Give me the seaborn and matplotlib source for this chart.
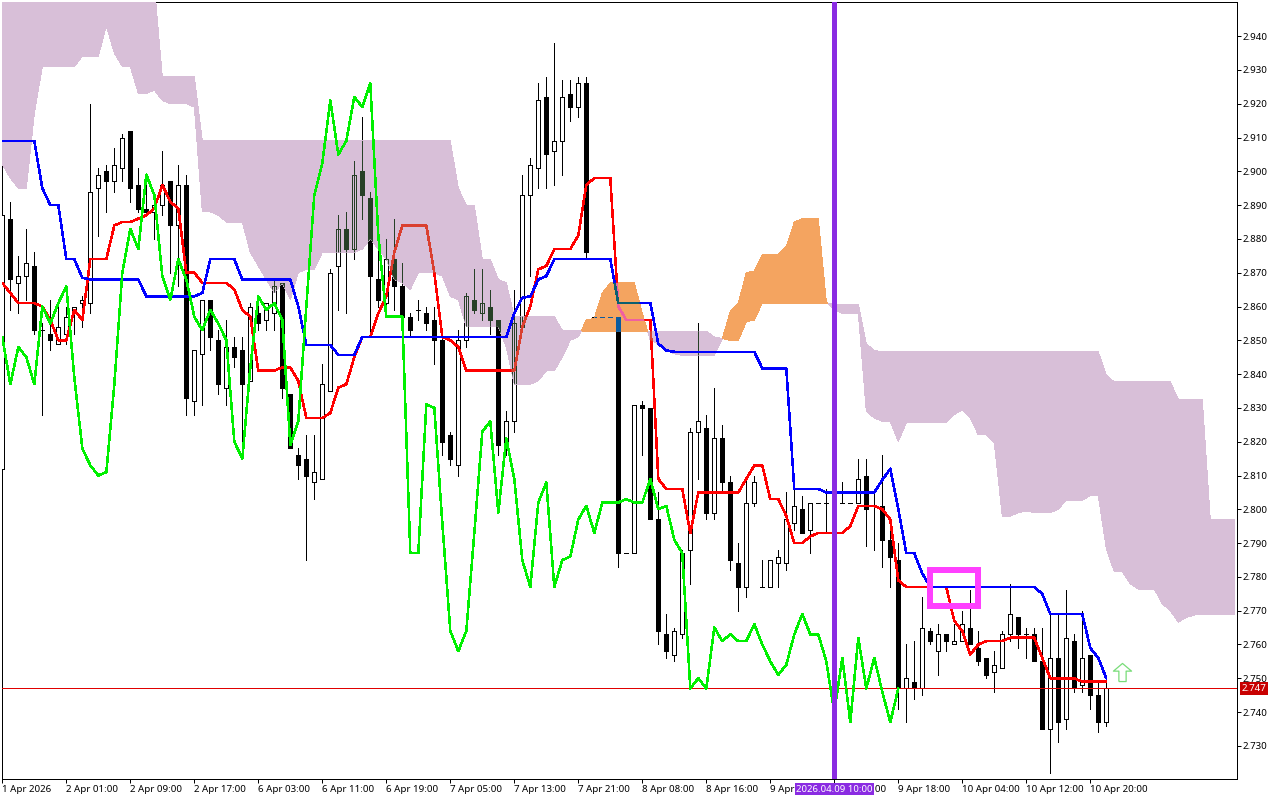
import numpy as np
import matplotlib
matplotlib.use("Agg")
import matplotlib.pyplot as plt
from matplotlib.path import Path
from matplotlib.patches import Rectangle
import seaborn as sns

# hourly candles
opens = [2.812,2.886,2.867,2.869,2.872,2.853,2.852,2.849,2.852,2.858,
         2.861,2.861,2.895,2.900,2.897,2.901,2.912,2.896,2.889,2.888,
         2.890,2.897,2.884,2.896,2.832,2.846,2.862,2.850,2.836,2.848,
         2.847,2.838,2.858,2.856,2.858,2.867,2.834,2.816,2.815,2.808,
         2.809,2.835,2.872,2.883,2.877,2.900,2.892,2.868,2.861,2.874,
         2.866,2.857,2.859,2.858,2.856,2.850,2.822,2.813,2.850,2.862,
         2.858,2.860,2.856,2.819,2.826,2.854,2.893,2.901,2.922,2.906,
         2.909,2.923,2.919,2.926,2.857,2.857,2.857,2.857,2.787,2.787,
         2.831,2.830,2.797,2.763,2.757,2.763,2.788,2.823,2.824,2.799,
         2.821,2.808,2.784,2.777,2.802,2.777,2.777,2.784,2.784,2.796,
         2.800,2.794,2.802,2.802,2.802,2.802,2.802,2.802,2.810,2.801,
         2.801,2.791,2.785,2.747,2.749,2.747,2.764,2.758,2.763,2.760,
         2.761,2.765,2.759,2.756,2.752,2.753,2.763,2.768,2.763,2.763,
         2.755,2.735,2.756,2.738,2.761,2.748,2.757,2.745,2.737]
highs = [2.888,2.891,2.875,2.883,2.876,2.855,2.862,2.860,2.860,2.860,
         2.863,2.920,2.901,2.902,2.907,2.911,2.912,2.901,2.896,2.890,
         2.906,2.897,2.902,2.899,2.847,2.862,2.862,2.853,2.856,2.851,
         2.851,2.861,2.861,2.861,2.868,2.867,2.834,2.818,2.822,2.822,
         2.843,2.871,2.887,2.888,2.903,2.916,2.894,2.884,2.880,2.886,
         2.873,2.858,2.862,2.860,2.860,2.852,2.823,2.853,2.864,2.871,
         2.871,2.865,2.856,2.829,2.865,2.899,2.904,2.926,2.928,2.938,
         2.927,2.927,2.928,2.928,2.857,2.857,2.857,2.857,2.787,2.831,
         2.832,2.830,2.805,2.769,2.765,2.788,2.824,2.855,2.828,2.836,
         2.825,2.810,2.790,2.809,2.810,2.785,2.785,2.788,2.805,2.806,
         2.804,2.802,2.802,2.806,2.802,2.808,2.802,2.815,2.815,2.806,
         2.816,2.797,2.790,2.760,2.761,2.774,2.765,2.766,2.763,2.766,
         2.770,2.776,2.764,2.756,2.758,2.764,2.778,2.768,2.765,2.765,
         2.765,2.769,2.769,2.776,2.763,2.770,2.757,2.749,2.749]
lows = [2.812,2.859,2.858,2.862,2.852,2.828,2.847,2.849,2.849,2.852,
        2.854,2.858,2.881,2.888,2.894,2.897,2.891,2.888,2.887,2.880,
        2.887,2.870,2.866,2.828,2.828,2.831,2.847,2.834,2.831,2.842,
        2.819,2.838,2.853,2.853,2.853,2.833,2.818,2.809,2.785,2.803,
        2.809,2.835,2.859,2.858,2.874,2.886,2.851,2.860,2.859,2.859,
        2.851,2.851,2.856,2.853,2.843,2.816,2.813,2.810,2.848,2.858,
        2.856,2.852,2.816,2.816,2.823,2.854,2.869,2.895,2.895,2.896,
        2.899,2.915,2.916,2.874,2.857,2.857,2.857,2.783,2.787,2.787,
        2.816,2.797,2.760,2.756,2.755,2.762,2.778,2.809,2.797,2.797,
        2.805,2.782,2.770,2.774,2.801,2.777,2.777,2.777,2.782,2.794,
        2.793,2.787,2.802,2.793,2.802,2.802,2.802,2.802,2.789,2.788,
        2.783,2.777,2.741,2.737,2.744,2.745,2.760,2.751,2.758,2.760,
        2.761,2.760,2.754,2.750,2.746,2.753,2.761,2.759,2.756,2.755,
        2.735,2.722,2.731,2.735,2.746,2.746,2.741,2.734,2.736]
closes = [2.887,2.868,2.869,2.873,2.853,2.853,2.850,2.854,2.857,2.860,
          2.862,2.894,2.899,2.897,2.902,2.910,2.895,2.889,2.888,2.890,
          2.896,2.884,2.896,2.833,2.847,2.862,2.851,2.837,2.848,2.845,
          2.837,2.860,2.855,2.861,2.866,2.836,2.818,2.813,2.810,2.811,
          2.837,2.870,2.883,2.877,2.899,2.893,2.869,2.862,2.874,2.866,
          2.857,2.853,2.859,2.855,2.850,2.820,2.815,2.850,2.863,2.859,
          2.861,2.856,2.819,2.826,2.855,2.893,2.902,2.921,2.905,2.909,
          2.922,2.919,2.926,2.876,2.857,2.857,2.857,2.787,2.787,2.831,
          2.830,2.797,2.764,2.758,2.764,2.787,2.823,2.826,2.799,2.821,
          2.808,2.785,2.777,2.802,2.808,2.777,2.785,2.786,2.797,2.801,
          2.793,2.802,2.802,2.802,2.802,2.802,2.802,2.809,2.800,2.801,
          2.791,2.786,2.747,2.750,2.747,2.765,2.761,2.763,2.761,2.761,
          2.766,2.760,2.755,2.751,2.754,2.763,2.769,2.763,2.763,2.755,
          2.735,2.756,2.737,2.762,2.747,2.756,2.745,2.737,2.747]

tenkan = [2.867,2.864,2.861,2.861,2.861,2.860,2.856,2.850,2.850,2.859,
          2.856,2.874,2.874,2.874,2.884,2.885,2.885,2.886,2.887,2.889,
          2.896,2.891,2.889,2.870,2.870,2.867,2.867,2.867,2.867,2.865,
          2.859,2.857,2.841,2.841,2.841,2.842,2.842,2.838,2.827,2.827,
          2.827,2.8285,2.836,2.837,2.845,2.851,2.851,2.858,2.863,2.876,
          2.884,2.884,2.884,2.884,2.870,2.851,2.850,2.848,2.841,2.841,
          2.841,2.841,2.841,2.841,2.841,2.854,2.860,2.871,2.872,2.877,
          2.877,2.877,2.881,2.896,2.898,2.898,2.898,2.860,2.856,2.856,
          2.856,2.856,2.809,2.806,2.806,2.806,2.793,2.805,2.805,2.805,
          2.805,2.805,2.805,2.809,2.813,2.813,2.803,2.803,2.798,2.790,
          2.790,2.792,2.793,2.793,2.793,2.793,2.795,2.801,2.801,2.801,
          2.800,2.797,2.779,2.777,2.777,2.777,2.777,2.777,2.777,2.767,
          2.764,2.757,2.760,2.761,2.761,2.761,2.762,2.762,2.762,2.762,
          2.756,2.750,2.750,2.750,2.750,2.749,2.749,2.749,2.749]
kijun = [2.909,2.909,2.909,2.909,2.909,2.895,2.890,2.890,2.874,2.874,
         2.8685,2.868,2.868,2.868,2.868,2.868,2.868,2.868,2.863,2.863,
         2.863,2.863,2.863,2.863,2.863,2.864,2.874,2.874,2.874,2.874,
         2.868,2.868,2.868,2.868,2.868,2.868,2.868,2.860,2.8486,2.8486,
         2.8486,2.8486,2.8457,2.8457,2.8457,2.851,2.851,2.851,2.851,2.851,
         2.851,2.851,2.851,2.851,2.851,2.851,2.851,2.851,2.851,2.851,
         2.851,2.851,2.851,2.851,2.858,2.8626,2.863,2.868,2.869,2.874,
         2.874,2.874,2.874,2.874,2.874,2.874,2.874,2.861,2.861,2.861,
         2.861,2.861,2.849,2.847,2.8466,2.8466,2.8466,2.8466,2.8466,2.8466,
         2.8466,2.8466,2.8466,2.8466,2.8466,2.8417,2.8417,2.8417,2.8417,2.806,
         2.806,2.806,2.806,2.805,2.805,2.805,2.805,2.805,2.805,2.805,
         2.8087,2.812,2.800,2.787,2.787,2.781,2.777,2.777,2.777,2.777,
         2.777,2.777,2.777,2.777,2.777,2.777,2.777,2.777,2.777,2.777,
         2.775,2.769,2.769,2.769,2.769,2.769,2.759,2.756,2.750]
chikou = [2.851,2.837,2.848,2.845,2.837,2.860,2.855,2.861,2.866,2.839,
          2.818,2.813,2.810,2.811,2.837,2.870,2.883,2.877,2.899,2.893,
          2.869,2.862,2.874,2.868,2.857,2.853,2.859,2.855,2.850,2.820,
          2.815,2.842,2.863,2.859,2.861,2.856,2.819,2.826,2.860,2.893,
          2.9024,2.921,2.905,2.909,2.922,2.919,2.926,2.881,2.857,2.857,
          2.857,2.787,2.787,2.831,2.830,2.796,2.764,2.758,2.764,2.793,
          2.823,2.826,2.799,2.821,2.809,2.785,2.777,2.802,2.808,2.777,
          2.785,2.786,2.797,2.801,2.793,2.802,2.802,2.802,2.803,2.802,
          2.802,2.809,2.800,2.801,2.791,2.787,2.747,2.750,2.747,2.765,
          2.761,2.763,2.761,2.761,2.766,2.760,2.755,2.751,2.754,2.763,
          2.769,2.763,2.763,2.755,2.740,2.756,2.737,2.762,2.747,2.756,
          2.746,2.737,2.747]
# the two cloud edges run on past the last candle
span_a = [2.902,2.898,2.895,2.895,2.917,2.931,2.931,2.931,2.931,2.931,
          2.934,2.934,2.934,2.943,2.935,2.931,2.931,2.923,2.923,2.924,
          2.921,2.920,2.920,2.920,2.919,2.888,2.888,2.887,2.885,2.885,
          2.885,2.876,2.872,2.868,2.864,2.867,2.862,2.870,2.871,2.871,
          2.876,2.876,2.876,2.876,2.876,2.877,2.880,2.877,2.874,2.868,
          2.867,2.865,2.870,2.870,2.870,2.869,2.863,2.862,2.854,2.854,
          2.854,2.854,2.854,2.848,2.837,2.837,2.837,2.838,2.841,2.841,
          2.845,2.850,2.851,2.856,2.8565,2.864,2.867,2.867,2.867,2.867,
          2.858,2.850,2.849,2.847,2.846,2.8455,2.8455,2.8455,2.8455,2.8456,
          2.8505,2.8585,2.861,2.870,2.8705,2.8754,2.8754,2.8754,2.8777,2.885,
          2.886,2.886,2.886,2.8614,2.859,2.858,2.858,2.858,2.829,2.827,
          2.826,2.826,2.820,2.8256,2.8256,2.8256,2.8256,2.8256,2.8256,2.828,
          2.8294,2.827,2.822,2.822,2.8195,2.798,2.798,2.799,2.7995,2.799,
          2.799,2.799,2.800,2.8027,2.8027,2.8027,2.804,2.804,2.7884,2.7815,
          2.7815,2.778,2.7764,2.7764,2.7764,2.772,2.770,2.7666,2.768,2.7687,
          2.769,2.769,2.769,2.769,2.769]
span_b = [2.955]*20 + [2.928]*5 + [2.909]*32 + [2.895,2.890,2.890,2.874,2.874,2.868,2.867] \
    + [2.857]*6 + [2.853]*3 + [2.8525]*8 + [2.8527]*8 + [2.851,2.8505,2.850,2.850,2.8555,2.856] \
    + [2.861]*9 + [2.8607]*4 + [2.849,2.847] + [2.8466]*28 + [2.8397] + [2.8377]*8 \
    + [2.8326]*4 + [2.797]*4

time_labels = ["1 Apr 2026","2 Apr 01:00","2 Apr 09:00","2 Apr 17:00","6 Apr 03:00",
               "6 Apr 11:00","6 Apr 19:00","7 Apr 05:00","7 Apr 13:00","7 Apr 21:00",
               "8 Apr 08:00","8 Apr 16:00","9 Apr 02:00","9 Apr 10:00","9 Apr 18:00",
               "10 Apr 04:00","10 Apr 12:00","10 Apr 20:00"]
price_ticks = [2.73,2.74,2.75,2.76,2.77,2.78,2.79,2.80,2.81,2.82,2.83,
               2.84,2.85,2.86,2.87,2.88,2.89,2.90,2.91,2.92,2.93,2.94]
last_price = 2.747
marked_bar = 104

THISTLE = "#D8BFD8"
SANDY = "#F4A460"
VIOLET = "#8A2BE2"

sns.set_style("white")
plt.rcParams["font.family"] = ["Noto Sans", "DejaVu Sans"]

fig = plt.figure(figsize=(12.8, 8), dpi=100)
ax = fig.add_axes([2/1280, 1-779/800, 1235/1280, 777/800])

bars = np.arange(len(closes))
span_x = np.arange(len(span_a))
a = np.array(span_a)
b = np.array(span_b)


def draw_candles(black, face, wick_z, body_z, clip=None):
    o = np.array(opens)
    c = np.array(closes)
    up = c > o
    w = ax.vlines(bars, lows, highs, color=black, lw=0.72, antialiased=False, zorder=wick_z)
    bear = ax.bar(bars[~up], (o-c)[~up], bottom=c[~up], width=0.5, color=black,
                  edgecolor=black, lw=0.72, antialiased=False, zorder=body_z)
    bull = ax.bar(bars[up], (c-o)[up], bottom=o[up], width=0.5, facecolor=face,
                  edgecolor=black, lw=0.72, antialiased=False, zorder=body_z)
    if clip is not None:
        w.set_clip_path(clip, ax.transData)
        for r in list(bear) + list(bull):
            r.set_clip_path(clip, ax.transData)


def draw_line(values, color, zorder, clip=None):
    sns.lineplot(x=bars[:len(values)], y=values, ax=ax, color=color, lw=1.1,
                 estimator=None, sort=False, antialiased=False, zorder=zorder)
    if clip is not None:
        ax.lines[-1].set_clip_path(clip, ax.transData)


draw_candles("black", "white", 2, 3)

thistle = ax.fill_between(span_x, a, b, where=a <= b, interpolate=True, color=THISTLE,
                          lw=0, antialiased=False, zorder=4)
sandy = ax.fill_between(span_x, a, b, where=a >= b, interpolate=True, color=SANDY,
                        lw=0, antialiased=False, zorder=4)
thistle_path = Path.make_compound_path(*thistle.get_paths())
sandy_path = Path.make_compound_path(*sandy.get_paths())

# the terminal paints the cloud in xor, so what lies under it changes colour
draw_candles("#274027", "none", 5, 5, thistle_path)
draw_candles("#0B5B9F", "none", 5, 5, sandy_path)

ax.axhline(last_price, color="#E00000", lw=0.72, antialiased=False, zorder=5.5)

draw_line(tenkan, "#FF0000", 6)
draw_line(tenkan, "#DA4030", 6.1, thistle_path)
draw_line(tenkan, "#F060A0", 6.1, sandy_path)
draw_line(kijun, "#0000FF", 7)
draw_line(kijun, "#0B6070", 7.1, sandy_path)
draw_line(chikou, "#00F000", 8)

ax.axvline(marked_bar, color=VIOLET, lw=3.6, antialiased=False, zorder=9)
ax.add_patch(Rectangle((116, 2.7715), 6, 0.0105, fill=False, edgecolor="#FF40FF",
                       lw=2.9, antialiased=False, joinstyle="miter", zorder=10))

arrow_shape = [(-0.4, -1), (0.4, -1), (0.4, 0.15), (1, 0.15), (0, 1), (-1, 0.15), (-0.4, 0.15), (-0.4, -1)]
ax.scatter([140], [2.752], marker=arrow_shape, s=170, facecolor="white",
           edgecolor="#78DC78", lw=0.9, zorder=10)

ax.set_xlim(-0.04, 154.34)
ax.set_ylim(2.7202, 2.9501)
ax.yaxis.tick_right()
ax.set_yticks(price_ticks)
ax.set_yticklabels([f"{t:.3f}" for t in price_ticks])
ax.set_xticks(bars[::8])
ax.set_xticklabels(time_labels, ha="left")
ax.tick_params(axis="y", length=3, width=0.72, pad=1, labelsize=7, color="black",
               labelcolor="black", right=True)
ax.tick_params(axis="x", length=3, width=0.72, pad=1, labelsize=7, color="black",
               labelcolor="black", bottom=True)
for s in ax.spines.values():
    s.set_visible(True)
    s.set_color("black")
    s.set_linewidth(0.72)

ax.text(marked_bar, -0.0129, "2026.04.09 10:00", transform=ax.get_xaxis_transform(), ha="center",
        va="center", color="white", fontsize=6.9, clip_on=False, zorder=20,
        bbox=dict(facecolor=VIOLET, edgecolor="none", pad=1.0))
ax.text(1.0040, last_price, f"{last_price:.3f}", transform=ax.get_yaxis_transform(), ha="left",
        va="center", color="white", fontsize=7, clip_on=False, zorder=20,
        bbox=dict(facecolor="#C80000", edgecolor="none", pad=1.2))

fig.savefig("out.png", dpi=100)
